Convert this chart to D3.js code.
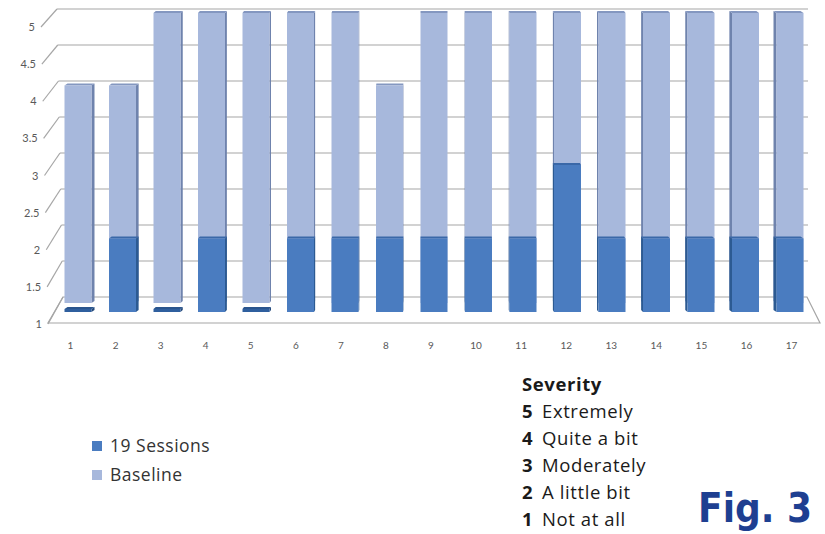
<!DOCTYPE html>
<html>
<head>
<meta charset="utf-8">
<script src="https://cdn.jsdelivr.net/npm/d3@7"></script>
<style>
  html, body { margin: 0; padding: 0; background: #fff; }
  svg { display: block; }
</style>
</head>
<body>
<svg id="chart" width="825" height="534"></svg>
<script>
// data
const categories = d3.range(1, 18)
const sessions19 = [1, 2, 1, 2, 1, 2, 2, 2, 2, 2, 2, 3, 2, 2, 2, 2, 2]
const baseline = [4, 4, 5, 5, 5, 5, 5, 4, 5, 5, 5, 5, 5, 5, 5, 5, 5]
const yTicks = [1, 1.5, 2, 2.5, 3, 3.5, 4, 4.5, 5]
const legendItems = [
  { name: '19 Sessions', color: '#4a7cc0' },
  { name: 'Baseline', color: '#a7b8dc' }
]
const severity = [
  { n: 5, label: 'Extremely' },
  { n: 4, label: 'Quite a bit' },
  { n: 3, label: 'Moderately' },
  { n: 2, label: 'A little bit' },
  { n: 1, label: 'Not at all' }
]

const svg = d3.select('#chart')
const gray = '#a6a6a6'
const labelColor = '#595959'

// scales: front plane (labels), back wall (gridlines), and the two bar rows
const yFront = d3.scaleLinear().domain([1, 5]).range([324, 27])
const yBack = d3.scaleLinear().domain([1, 5]).range([297, 9])
const yBase = d3.scaleLinear().domain([1, 5]).range([303, 13])
const ySess = d3.scaleLinear().domain([1, 5]).range([312, 18])
const xFrontEdge = d3.scaleLinear().domain([1, 5]).range([48, 41])
const xBackEdge = d3.scaleLinear().domain([1, 5]).range([63, 57])
const xBar = d3.scalePoint().domain(categories).range([78, 790])
const xLabel = d3.scalePoint().domain(categories).range([70, 791])
const barW = 27
// perspective: side face width depends on distance from the centre
const sideW = d3.scaleLinear().domain([78, 434, 790]).range([3, 0, -3])

// back wall gridlines + slanted side wall lines
const grid = svg.append('g').attr('class', 'grid')
grid.selectAll('.hline')
  .data(yTicks.filter(d => d > 1))
  .join('line')
  .attr('x1', d => xBackEdge(d))
  .attr('x2', 808)
  .attr('y1', d => yBack(d))
  .attr('y2', d => yBack(d))
  .attr('stroke', gray)
  .attr('stroke-width', 1.2)
grid.selectAll('.slant')
  .data(yTicks)
  .join('line')
  .attr('x1', d => xFrontEdge(d))
  .attr('y1', d => yFront(d))
  .attr('x2', d => xBackEdge(d))
  .attr('y2', d => yBack(d))
  .attr('stroke', gray)
  .attr('stroke-width', 1.2)

// floor
svg.append('polygon')
  .attr('points', [[xBackEdge(1), yBack(1)], [807, yBack(1)], [820, yFront(1) - 1], [xFrontEdge(1), yFront(1) - 1]].join(' '))
  .attr('fill', 'none')
  .attr('stroke', gray)
  .attr('stroke-width', 1.2)

// y labels
svg.append('g').selectAll('text')
  .data(yTicks)
  .join('text')
  .attr('x', d => xFrontEdge(d) - 6)
  .attr('y', d => yFront(d) + 4)
  .attr('text-anchor', 'end')
  .attr('font-family', 'Lato, "Open Sans", sans-serif')
  .attr('font-size', 11)
  .attr('fill', labelColor)
  .text(d => d)

// x labels
const xAxis = svg.append('g')
  .attr('transform', 'translate(0,342)')
  .call(d3.axisBottom(xLabel).tickSize(0).tickPadding(0))
xAxis.select('.domain').remove()
xAxis.selectAll('text')
  .attr('font-family', 'Lato, "Open Sans", sans-serif')
  .attr('font-size', 10)
  .attr('fill', labelColor)

function drawBar (g, cx, yTop, yBottom, front, side, top) {
  const s = sideW(cx)
  const l = cx - barW / 2
  const r = cx + barW / 2
  const edge = s >= 0 ? r : l
  g.append('polygon')
    .attr('points', [[edge, yTop], [edge + s, yTop - 2], [edge + s, yBottom - 2], [edge, yBottom]].join(' '))
    .attr('fill', side)
  g.append('polygon')
    .attr('points', [[l, yTop], [l + s, yTop - 2], [r + s, yTop - 2], [r, yTop]].join(' '))
    .attr('fill', top)
  g.append('rect')
    .attr('x', l)
    .attr('y', yTop)
    .attr('width', barW)
    .attr('height', yBottom - yTop)
    .attr('fill', front)
}

// baseline row (behind)
const baseG = svg.append('g')
categories.forEach((c, i) => {
  drawBar(baseG, xBar(c), yBase(baseline[i]), yBase(1), '#a7b8dc', '#6f83ad', '#8497c0')
})

// 19 sessions row (front); value 1 shows as a thin slab
const sessG = svg.append('g')
categories.forEach((c, i) => {
  const v = sessions19[i]
  if (v <= 1) {
    drawBar(sessG, xBar(c), ySess(1) - 3, ySess(1), '#2f5f9e', '#24497a', '#2a558e')
  } else {
    drawBar(sessG, xBar(c), ySess(v), ySess(1), '#4a7cc0', '#2c5a92', '#3a68a8')
  }
})

// legend
const legend = svg.append('g')
legend.selectAll('rect')
  .data(legendItems)
  .join('rect')
  .attr('x', 92)
  .attr('y', (d, i) => 441 + i * 29)
  .attr('width', 10)
  .attr('height', 10)
  .attr('fill', d => d.color)
legend.selectAll('text')
  .data(legendItems)
  .join('text')
  .attr('x', 110)
  .attr('y', (d, i) => 452 + i * 29)
  .attr('font-family', '"Open Sans", Lato, sans-serif')
  .attr('font-size', 17.5)
  .attr('letter-spacing', 0.5)
  .attr('fill', '#333')
  .text(d => d.name)

// severity key
const key = svg.append('g')
  .attr('font-family', '"Open Sans", Lato, sans-serif')
  .attr('font-size', 18.5)
  .attr('letter-spacing', 0.6)
  .attr('fill', '#1a1a1a')
key.append('text')
  .attr('x', 522)
  .attr('y', 391)
  .attr('font-weight', 'bold')
  .text('Severity')
const rows = key.selectAll('.row')
  .data(severity)
  .join('text')
  .attr('class', 'row')
  .attr('x', 522)
  .attr('y', (d, i) => 418 + i * 27)
rows.append('tspan').attr('font-weight', 'bold').text(d => d.n)
rows.append('tspan').attr('x', 542).text(d => d.label)

// figure tag
svg.append('text')
  .attr('x', 812)
  .attr('y', 522)
  .attr('text-anchor', 'end')
  .attr('font-family', '"Liberation Sans Narrow", "DejaVu Sans Condensed", sans-serif')
  .attr('font-weight', 'bold')
  .attr('font-size', 40)
  .attr('fill', '#1e3f91')
  .text('Fig. 3')
</script>
</body>
</html>
